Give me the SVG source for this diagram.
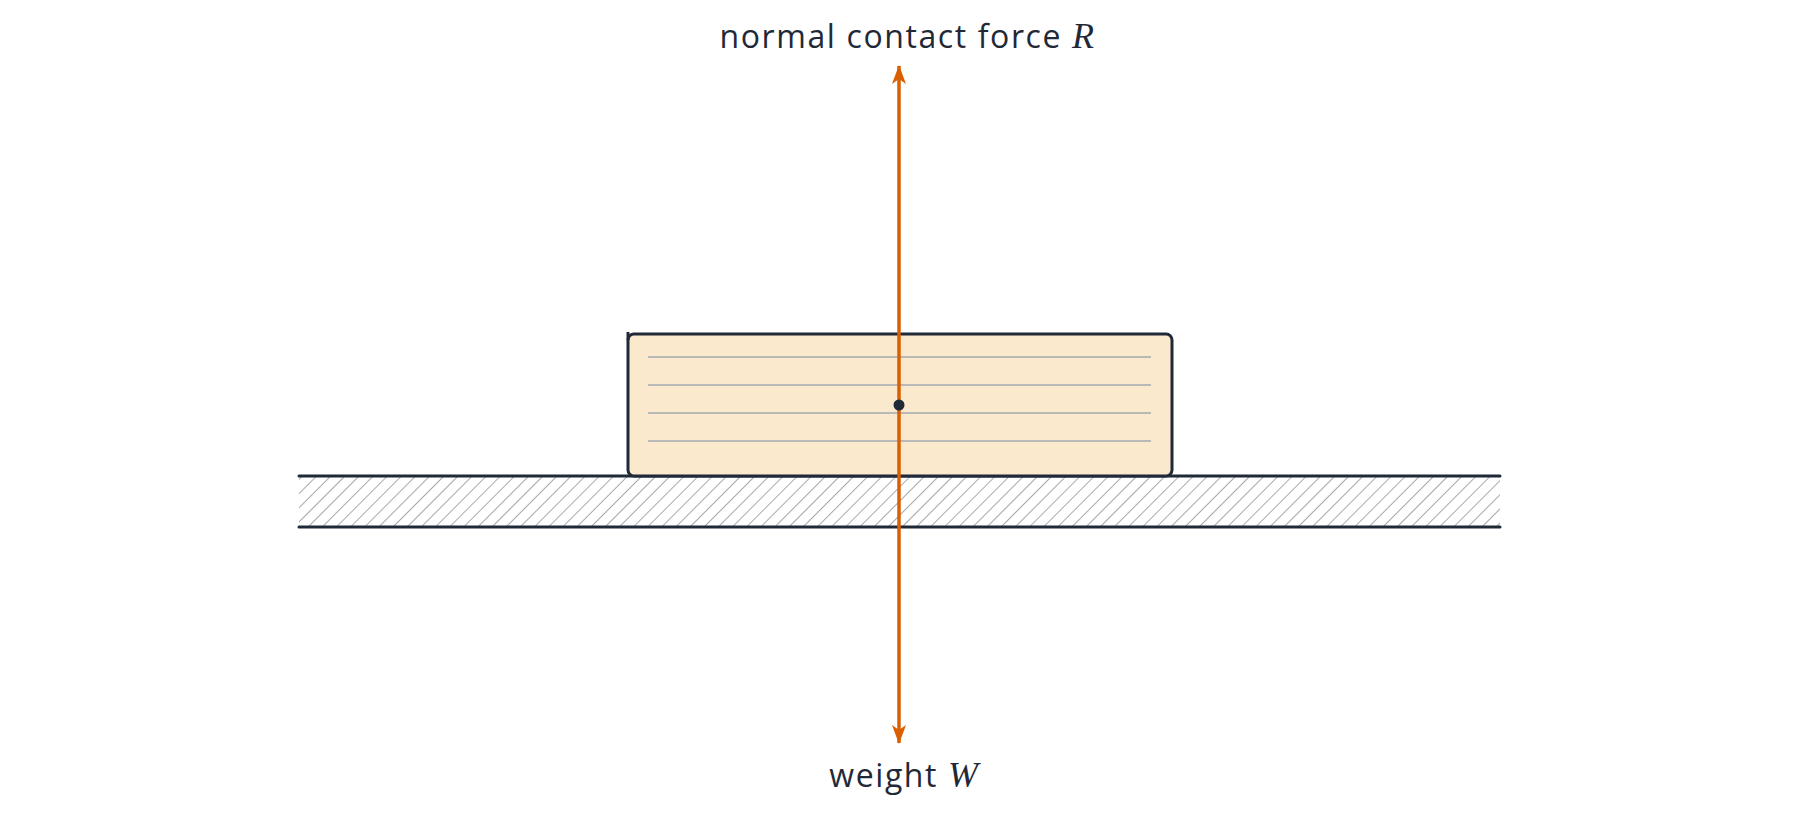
<svg xmlns="http://www.w3.org/2000/svg" width="1800" height="819" viewBox="0 0 1800 819">
<defs>
<pattern id="hatch" patternUnits="userSpaceOnUse" width="10" height="10" patternTransform="rotate(45)">
<line x1="0" y1="0" x2="0" y2="10" stroke="#8d939c" stroke-width="1.6"/>
</pattern>
<marker id="ah" viewBox="0 0 20 16" refX="18" refY="8" markerWidth="20" markerHeight="16" markerUnits="userSpaceOnUse" orient="auto-start-reverse">
<path d="M0,1 L19,8 L0,15 L5,8 Z" fill="#d95f02"/>
</marker>
<style>
.lbl{font-family:"Open Sans","Noto Sans","Liberation Sans",sans-serif;font-size:32px;letter-spacing:1.6px;fill:#1f2937}
.math{font-family:"Liberation Serif",serif;font-style:italic;font-size:36px;letter-spacing:0;fill:#1f2937}
.grain{stroke:#a3a8b0;stroke-width:1.5}
</style>
</defs>
<rect width="1800" height="819" fill="#ffffff"/>
<g id="ground">
<rect x="299" y="476" width="1201" height="51" fill="url(#hatch)"/>
<line x1="299" y1="476" x2="1500" y2="476" stroke="#1f2937" stroke-width="3" stroke-linecap="round"/>
<line x1="299" y1="527" x2="1500" y2="527" stroke="#1f2937" stroke-width="3" stroke-linecap="round"/>
</g>
<g id="block">
<rect x="628" y="334" width="544" height="142" rx="6" fill="#fae9cc" stroke="#1f2937" stroke-width="3"/>
<line x1="628" y1="332" x2="628" y2="340" stroke="#1f2937" stroke-width="3"/>
<line class="grain" x1="648" y1="357" x2="1151" y2="357"/>
<line class="grain" x1="648" y1="385" x2="1151" y2="385"/>
<line class="grain" x1="648" y1="413" x2="1151" y2="413"/>
<line class="grain" x1="648" y1="441" x2="1151" y2="441"/>
</g>
<g id="connectors">
<line x1="899" y1="405" x2="899" y2="66" stroke="#d95f02" stroke-width="3.5" marker-end="url(#ah)"/>
<line x1="899" y1="405" x2="899" y2="743" stroke="#d95f02" stroke-width="3.5" marker-end="url(#ah)"/>
</g>
<g id="centre">
<circle cx="899" cy="405" r="5.5" fill="#1f2937"/>
</g>
<g id="label-R">
<text x="1094" y="48" class="lbl" text-anchor="end">normal contact force <tspan class="math">R</tspan></text>
</g>
<g id="label-W">
<text x="978" y="787" class="lbl" text-anchor="end">weight <tspan class="math">W</tspan></text>
</g>
</svg>
